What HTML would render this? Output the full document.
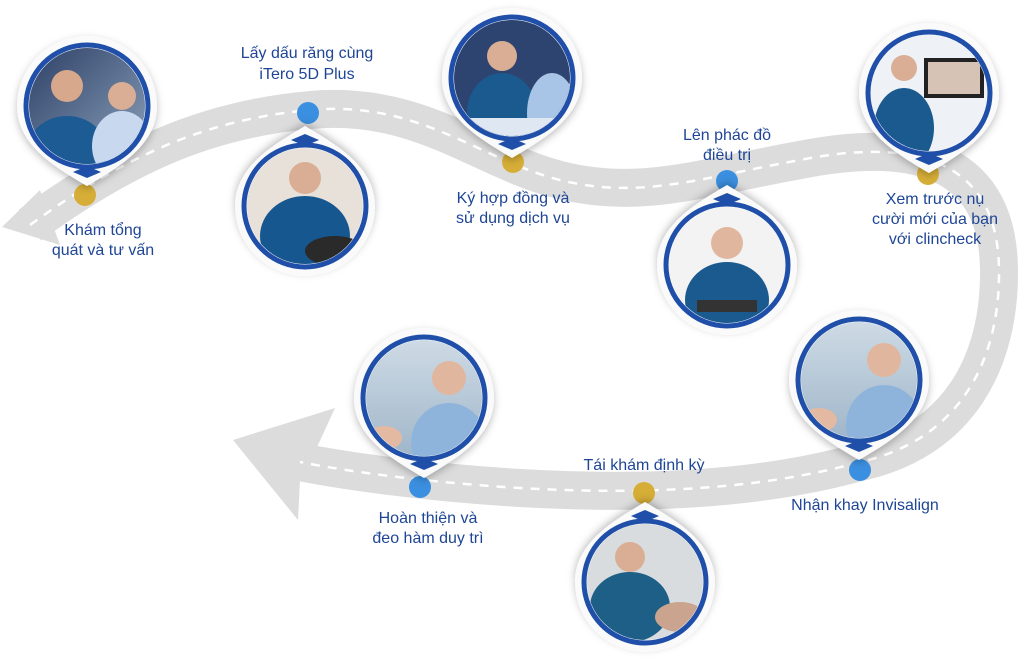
<!DOCTYPE html>
<html><head><meta charset="utf-8"><style>
html,body{margin:0;padding:0;background:#fff;}
svg{display:block}
text{font-family:"Liberation Sans","Noto Sans CJK SC",sans-serif;font-size:16px;fill:#1e4596;text-anchor:middle}
</style></head><body>
<svg width="1024" height="662" viewBox="0 0 1024 662">
<defs>
<filter id="sh" x="-30%" y="-30%" width="160%" height="160%"><feDropShadow dx="0" dy="3" stdDeviation="4" flood-color="#000" flood-opacity="0.25"/></filter>
<linearGradient id="bg1" x1="0" y1="0" x2="0" y2="1"><stop offset="0" stop-color="#cfdbe6"/><stop offset="1" stop-color="#9fb6c9"/></linearGradient>
<linearGradient id="bg2" x1="0" y1="0" x2="1" y2="1"><stop offset="0" stop-color="#2c3f66"/><stop offset="1" stop-color="#8ea3bd"/></linearGradient>
<clipPath id="cp"><circle r="58"/></clipPath>
<g id="nodeBase">
 <path d="M-70,0 A70,70 0 1,1 70,0 C70,40 30,62 0,80 C-30,62 -70,40 -70,0Z" fill="#fafafa" filter="url(#sh)"/>
 <path d="M-14,66 L0,72 L14,66 L0,60Z" fill="#1f4fa8"/>
 <circle r="61" fill="none" stroke="#1f4fa8" stroke-width="5"/>
</g>
<g id="ph1" clip-path="url(#cp)"><rect x="-60" y="-60" width="120" height="120" fill="url(#bg2)"/><ellipse cx="-20" cy="45" rx="40" ry="35" fill="#1d5b95"/><circle cx="-20" cy="-20" r="16" fill="#d7a88c"/><ellipse cx="35" cy="40" rx="30" ry="35" fill="#c8d8ee"/><circle cx="35" cy="-10" r="14" fill="#d9ae94"/></g>
<g id="ph2" clip-path="url(#cp)"><rect x="-60" y="-60" width="120" height="120" fill="#e7e1da"/><ellipse cx="0" cy="30" rx="45" ry="40" fill="#17578f"/><circle cx="0" cy="-28" r="16" fill="#d9ae94"/><ellipse cx="30" cy="45" rx="30" ry="15" fill="#2a2a2a"/></g>
<g id="ph3" clip-path="url(#cp)"><rect x="-60" y="-60" width="120" height="120" fill="#2e4470"/><ellipse cx="-10" cy="35" rx="35" ry="40" fill="#1a5a8f"/><circle cx="-10" cy="-22" r="15" fill="#d9ae94"/><ellipse cx="40" cy="35" rx="25" ry="40" fill="#a8c4e6"/><rect x="-60" y="40" width="120" height="20" fill="#dfe8f2"/></g>
<g id="ph4" clip-path="url(#cp)"><rect x="-60" y="-60" width="120" height="120" fill="#f3f3f3"/><ellipse cx="0" cy="35" rx="42" ry="38" fill="#1a5a8f"/><circle cx="0" cy="-22" r="16" fill="#e0b79e"/><rect x="-30" y="35" width="60" height="12" fill="#333"/></g>
<g id="ph5" clip-path="url(#cp)"><rect x="-60" y="-60" width="120" height="120" fill="#eef2f6"/><ellipse cx="-25" cy="35" rx="30" ry="40" fill="#1a5a8f"/><circle cx="-25" cy="-25" r="13" fill="#d9ae94"/><rect x="-5" y="-35" width="60" height="40" fill="#222"/><rect x="-1" y="-31" width="52" height="32" fill="#d7c2b6"/></g>
<g id="ph6" clip-path="url(#cp)"><rect x="-60" y="-60" width="120" height="120" fill="url(#bg1)"/><ellipse cx="25" cy="45" rx="38" ry="40" fill="#8fb4dc"/><circle cx="25" cy="-20" r="17" fill="#e0b79e"/><ellipse cx="-40" cy="40" rx="18" ry="12" fill="#e3b9a2"/></g>
<g id="ph7" clip-path="url(#cp)"><rect x="-60" y="-60" width="120" height="120" fill="#d9dcdf"/><ellipse cx="-15" cy="25" rx="40" ry="35" fill="#1d5f86"/><circle cx="-15" cy="-25" r="15" fill="#d9ae94"/><ellipse cx="35" cy="35" rx="25" ry="15" fill="#caa48e"/></g>
</defs>

<path d="M30,225 C120,160 200,120 310,110 C420,100 480,160 560,180 C640,200 700,178 800,160 C900,140 998,150 999,270 C1000,360 960,440 860,462 C760,490 640,495 520,488 C420,482 340,470 300,462"
 fill="none" stroke="#dcdcdc" stroke-width="38"/>
<polygon points="2,227 40,190 60,245" fill="#dcdcdc"/>
<polygon points="233,440 335,408 318,445 300,480 298,520" fill="#dcdcdc"/>
<path d="M30,225 C120,160 200,120 310,110 C420,100 480,160 560,180 C640,200 700,178 800,160 C900,140 998,150 999,270 C1000,360 960,440 860,462 C760,490 640,495 520,488 C420,482 340,470 300,462"
 fill="none" stroke="#fff" stroke-width="2.5" stroke-dasharray="9,8"/>

<circle cx="85" cy="195" r="11" fill="#d6ae37"/>
<circle cx="308" cy="113" r="11" fill="#3b8fe0"/>
<circle cx="513" cy="162" r="11" fill="#d6ae37"/>
<circle cx="727" cy="181" r="11" fill="#3b8fe0"/>
<circle cx="928" cy="174" r="11" fill="#d6ae37"/>
<circle cx="860" cy="470" r="11" fill="#3b8fe0"/>
<circle cx="644" cy="493" r="11" fill="#d6ae37"/>
<circle cx="420" cy="487" r="11" fill="#3b8fe0"/>

<g transform="translate(87,106)"><use href="#nodeBase"/><use href="#ph1"/></g>
<g transform="translate(305,206)"><use href="#nodeBase" transform="rotate(180)"/><use href="#ph2"/></g>
<g transform="translate(512,78)"><use href="#nodeBase"/><use href="#ph3"/></g>
<g transform="translate(727,265)"><use href="#nodeBase" transform="rotate(180)"/><use href="#ph4"/></g>
<g transform="translate(929,93)"><use href="#nodeBase"/><use href="#ph5"/></g>
<g transform="translate(859,380)"><use href="#nodeBase"/><use href="#ph6"/></g>
<g transform="translate(645,582)"><use href="#nodeBase" transform="rotate(180)"/><use href="#ph7"/></g>
<g transform="translate(424,398)"><use href="#nodeBase"/><use href="#ph6"/></g>

<text x="103" y="235">Khám tổng</text>
<text x="103" y="255">quát và tư vấn</text>
<text x="307" y="58">Lấy dấu răng cùng</text>
<text x="307" y="79">iTero 5D Plus</text>
<text x="513" y="203">Ký hợp đồng và</text>
<text x="513" y="223">sử dụng dịch vụ</text>
<text x="727" y="140">Lên phác đồ</text>
<text x="727" y="160">điều trị</text>
<text x="935" y="204">Xem trước nụ</text>
<text x="935" y="224">cười mới của bạn</text>
<text x="935" y="244">với clincheck</text>
<text x="865" y="510">Nhận khay Invisalign</text>
<text x="644" y="470">Tái khám định kỳ</text>
<text x="428" y="523">Hoàn thiện và</text>
<text x="428" y="543">đeo hàm duy trì</text>
</svg>
</body></html>
